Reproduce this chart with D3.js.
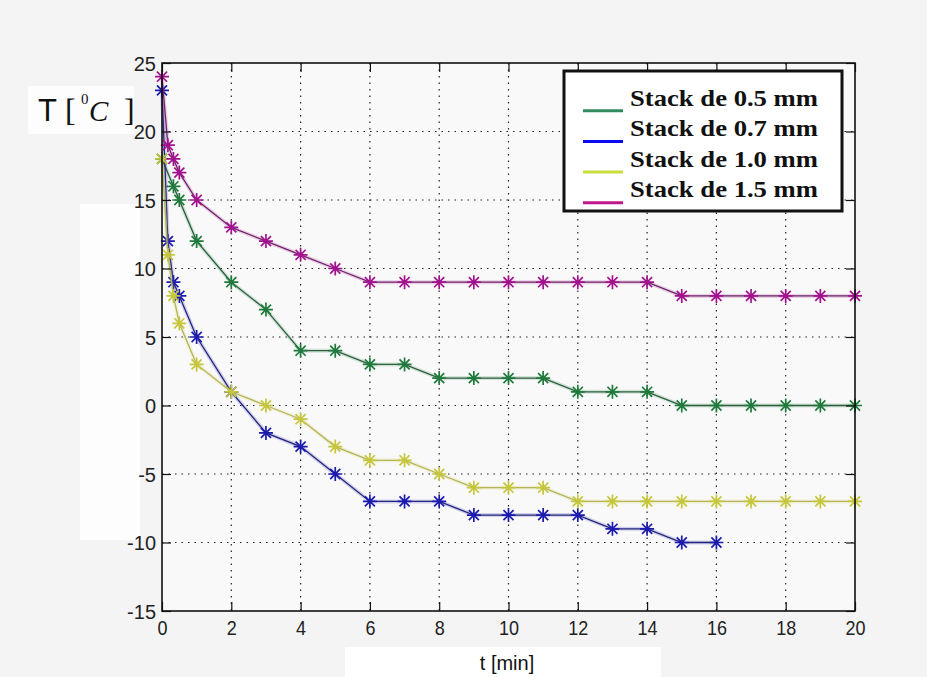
<!DOCTYPE html>
<html>
<head>
<meta charset="utf-8">
<script src="https://cdn.jsdelivr.net/npm/d3@7"></script>
<style>
  html, body { margin: 0; padding: 0; background: #f3f3f3; }
  svg { display: block; }
</style>
</head>
<body>
<div id="chart"></div>
<script>
// --- datos ---
const tGreen = [0, 0.33, 0.5, 1, 2, 3, 4, 5, 6, 7, 8, 9, 10, 11, 12, 13, 14, 15, 16, 17, 18, 19, 20];
const vGreen = [18, 16, 15, 12, 9, 7, 4, 4, 3, 3, 2, 2, 2, 2, 1, 1, 1, 0, 0, 0, 0, 0, 0];

const tBlue = [0, 0.17, 0.33, 0.5, 1, 2, 3, 4, 5, 6, 7, 8, 9, 10, 11, 12, 13, 14, 15, 16];
const vBlue = [23, 12, 9, 8, 5, 1, -2, -3, -5, -7, -7, -7, -8, -8, -8, -8, -9, -9, -10, -10];

const tYellow = [0, 0.17, 0.33, 0.5, 1, 2, 3, 4, 5, 6, 7, 8, 9, 10, 11, 12, 13, 14, 15, 16, 17, 18, 19, 20];
const vYellow = [18, 11, 8, 6, 3, 1, 0, -1, -3, -4, -4, -5, -6, -6, -6, -7, -7, -7, -7, -7, -7, -7, -7, -7];

const tMagenta = [0, 0.17, 0.33, 0.5, 1, 2, 3, 4, 5, 6, 7, 8, 9, 10, 11, 12, 13, 14, 15, 16, 17, 18, 19, 20];
const vMagenta = [24, 19, 18, 17, 15, 13, 12, 11, 10, 9, 9, 9, 9, 9, 9, 9, 9, 9, 8, 8, 8, 8, 8, 8];

const seriesNames = ["Stack de 0.5 mm", "Stack de 0.7 mm", "Stack de 1.0 mm", "Stack de 1.5 mm"];
const xTicks = [0, 2, 4, 6, 8, 10, 12, 14, 16, 18, 20];
const yTicks = [-15, -10, -5, 0, 5, 10, 15, 20, 25];

// colores: linea, marcador, leyenda
const lineColors = ["#2b5d3e", "#24247a", "#b4b45a", "#6e2366"];
const markColors = ["#1f7a3c", "#1b1bb0", "#c6c63c", "#a3128e"];
const legendColors = ["#338a5f", "#0b0bf0", "#c9dc3a", "#c0168e"];

const series = [
  { t: tGreen, v: vGreen },
  { t: tBlue, v: vBlue },
  { t: tYellow, v: vYellow },
  { t: tMagenta, v: vMagenta }
];

const W = 927, H = 677;
const svg = d3.select("#chart").append("svg").attr("width", W).attr("height", H);

// fondos / parches blancos
svg.append("rect").attr("width", W).attr("height", H).attr("fill", "#f4f4f4");
svg.append("rect").attr("x", 28).attr("y", 86).attr("width", 106).attr("height", 48).attr("fill", "#fdfdfd");
svg.append("rect").attr("x", 80).attr("y", 204).attr("width", 60).attr("height", 336).attr("fill", "#fdfdfd");
svg.append("rect").attr("x", 345).attr("y", 647).attr("width", 316).attr("height", 30).attr("fill", "#ffffff");

const x = d3.scaleLinear().domain([0, 20]).range([162, 855]);
const y = d3.scaleLinear().domain([-15, 25]).range([611, 63]);

svg.append("rect")
  .attr("x", x(0)).attr("y", y(25))
  .attr("width", x(20) - x(0)).attr("height", y(-15) - y(25))
  .attr("fill", "#f9f9f9");

// rejilla punteada
const grid = svg.append("g").attr("stroke", "#222").attr("stroke-width", 1.2).attr("stroke-dasharray", "1.5 5");
grid.selectAll(".gx").data(xTicks.slice(1, -1)).enter().append("line")
  .attr("x1", d => x(d)).attr("x2", d => x(d))
  .attr("y1", y(25)).attr("y2", y(-15));
grid.selectAll(".gy").data(yTicks.slice(1, -1)).enter().append("line")
  .attr("y1", d => y(d)).attr("y2", d => y(d))
  .attr("x1", x(0)).attr("x2", x(20));

// series
const line = d3.line().x(d => x(d[0])).y(d => y(d[1]));
const star = r => `M${-r},0H${r}M0,${-r}V${r}M${-r * 0.72},${-r * 0.72}L${r * 0.72},${r * 0.72}M${-r * 0.72},${r * 0.72}L${r * 0.72},${-r * 0.72}`;

series.forEach((s, i) => {
  const pts = s.t.map((t, j) => [t, s.v[j]]);
  svg.append("path").datum(pts).attr("d", line)
    .attr("fill", "none").attr("stroke", markColors[i]).attr("stroke-opacity", 0.18).attr("stroke-width", 4);
  svg.append("path").datum(pts).attr("d", line)
    .attr("fill", "none").attr("stroke", lineColors[i]).attr("stroke-width", 1.3);
  svg.append("g").selectAll("path").data(pts).enter().append("path")
    .attr("transform", d => `translate(${x(d[0])},${y(d[1])})`)
    .attr("d", star(7))
    .attr("fill", "none").attr("stroke", markColors[i]).attr("stroke-width", 1.7);
});

// ejes
const fontAxis = "'Liberation Sans', Arial, sans-serif";
const fmt = d => String(d);
const axB = svg.append("g").attr("transform", `translate(0,${y(-15)})`)
  .call(d3.axisBottom(x).tickValues(xTicks).tickSizeInner(-9).tickSizeOuter(0).tickPadding(9).tickFormat(fmt));
const axL = svg.append("g").attr("transform", `translate(${x(0)},0)`)
  .call(d3.axisLeft(y).tickValues(yTicks).tickSizeInner(-9).tickSizeOuter(0).tickPadding(6).tickFormat(fmt));
const axT = svg.append("g").attr("transform", `translate(0,${y(25)})`)
  .call(d3.axisTop(x).tickValues(xTicks).tickSizeInner(-9).tickSizeOuter(0).tickFormat(""));
const axR = svg.append("g").attr("transform", `translate(${x(20)},0)`)
  .call(d3.axisRight(y).tickValues(yTicks).tickSizeInner(-9).tickSizeOuter(0).tickFormat(""));
[axB, axL, axT, axR].forEach(a => {
  a.select(".domain").remove();
  a.selectAll(".tick line").attr("stroke", "#111").attr("stroke-width", 1.2);
  a.selectAll("text").attr("fill", "#222").style("font-family", fontAxis).style("font-size", "20px");
});
axB.selectAll("text").attr("transform", function () { return "scale(0.9,1.05)"; });
axL.selectAll("text").attr("dy", "0.36em");

svg.append("rect")
  .attr("x", x(0)).attr("y", y(25))
  .attr("width", x(20) - x(0)).attr("height", y(-15) - y(25))
  .attr("fill", "none").attr("stroke", "#111").attr("stroke-width", 1.6);

// etiquetas de ejes
svg.append("text").attr("x", 507).attr("y", 670).attr("text-anchor", "middle")
  .style("font-family", fontAxis).style("font-size", "20px").attr("fill", "#111")
  .text("t [min]");

const yl = svg.append("g").attr("fill", "#111");
yl.append("text").attr("x", 38).attr("y", 121)
  .style("font-family", fontAxis).style("font-size", "31px").text("T");
yl.append("text").attr("x", 65).attr("y", 121)
  .style("font-family", "'Liberation Serif', serif").style("font-size", "32px").text("[");
yl.append("text").attr("x", 81).attr("y", 104)
  .style("font-family", "'Liberation Serif', serif").style("font-size", "15px").text("0");
yl.append("text").attr("x", 89).attr("y", 121)
  .style("font-family", "'Liberation Serif', serif").style("font-style", "italic").style("font-size", "29px").text("C");
yl.append("text").attr("x", 124).attr("y", 121)
  .style("font-family", "'Liberation Serif', serif").style("font-size", "32px").text("]");

// leyenda
const lg = svg.append("g");
lg.append("rect").attr("x", 564).attr("y", 71).attr("width", 278).attr("height", 140)
  .attr("fill", "#ffffff").attr("stroke", "#111").attr("stroke-width", 3);
seriesNames.forEach((name, i) => {
  const ly = 110.7 + i * 30.7;
  lg.append("line").attr("x1", 583).attr("x2", 623).attr("y1", ly).attr("y2", ly)
    .attr("stroke", legendColors[i]).attr("stroke-width", 3);
  lg.append("text").attr("x", 630).attr("y", 106 + i * 30.3)
    .attr("textLength", 188).attr("lengthAdjust", "spacingAndGlyphs")
    .style("font-family", "'Liberation Serif', 'Times New Roman', serif")
    .style("font-weight", "bold").style("font-size", "24px").attr("fill", "#111")
    .text(name);
});
</script>
</body>
</html>
